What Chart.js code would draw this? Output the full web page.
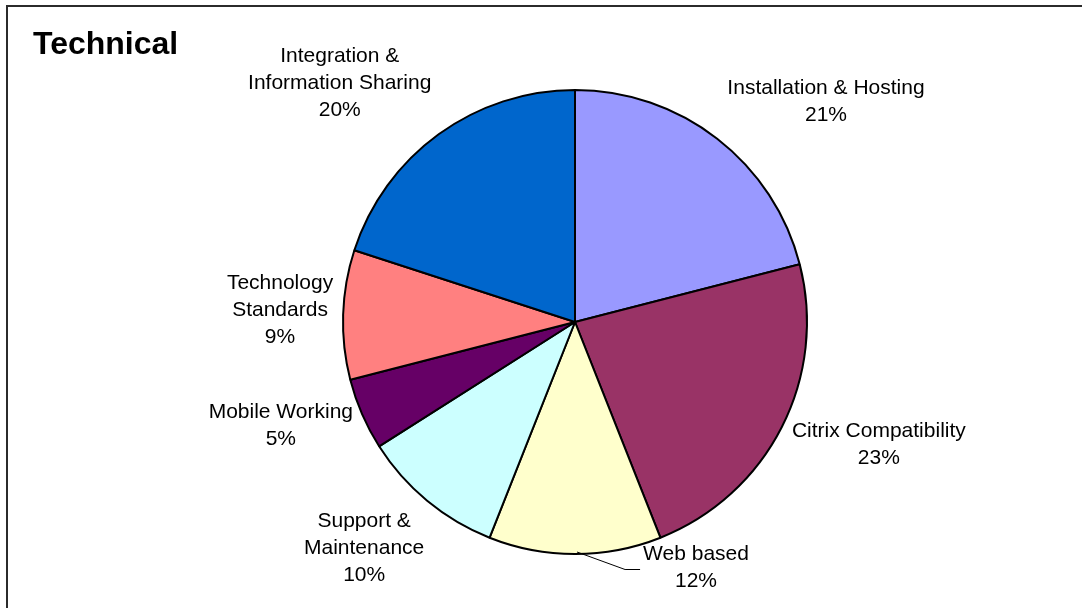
<!DOCTYPE html>
<html>
<head>
<meta charset="utf-8">
<title>Technical</title>
<script src="https://cdn.jsdelivr.net/npm/chart.js@4.4.1/dist/chart.umd.min.js"></script>
<style>
  html, body { margin: 0; padding: 0; background: #fff; }
  #wrap { width: 1082px; height: 608px; }
</style>
</head>
<body>
<div id="wrap"><canvas id="pie" width="1082" height="608"></canvas></div>
<script>
// Technical issues breakdown - pie with outside labels
const categories = [
  ['Installation & Hosting'],
  ['Citrix Compatibility'],
  ['Web based'],
  ['Support &', 'Maintenance'],
  ['Mobile Working'],
  ['Technology', 'Standards'],
  ['Integration &', 'Information Sharing']
];
const shares = [21, 23, 12, 10, 5, 9, 20];
const sliceColors = ['#9999FF', '#993366', '#FFFFCC', '#CCFFFF', '#660066', '#FF8080', '#0066CC'];

// label placement tweaks (px) on top of the generic outside placement
const labelNudge = [[41, -6], [9, 0], [121, -25], [-17, 7], [-4, -4], [2, -3], [-38, -9]];
const hasLeader = [false, false, true, false, false, false, false];

const FONT = '"Liberation Sans", Arial, sans-serif';
const LINE_H = 27;

const pieLabels = {
  id: 'pieLabels',
  beforeDraw(chart) {
    const ctx = chart.ctx;
    ctx.save();
    // outer frame (cut off at right/bottom like the source)
    ctx.strokeStyle = '#2b2b2b';
    ctx.lineWidth = 2;
    ctx.strokeRect(7, 6, 1200, 800);
    // title
    ctx.fillStyle = '#000';
    ctx.font = 'bold 32px ' + FONT;
    ctx.textBaseline = 'alphabetic';
    ctx.textAlign = 'left';
    ctx.fillText('Technical', 33, 54);
    ctx.restore();
  },
  afterDatasetsDraw(chart) {
    const ctx = chart.ctx;
    const total = shares.reduce((a, b) => a + b, 0);
    ctx.save();
    ctx.font = '21px ' + FONT;
    ctx.fillStyle = '#000';
    ctx.textAlign = 'center';
    ctx.textBaseline = 'middle';
    chart.getDatasetMeta(0).data.forEach((arc, i) => {
      const p = arc.getProps(['x', 'y', 'startAngle', 'endAngle', 'outerRadius'], true);
      const mid = (p.startAngle + p.endAngle) / 2;
      const c = Math.cos(mid), s = Math.sin(mid);
      const lines = categories[i].concat([Math.round(shares[i] / total * 100) + '%']);
      const w = Math.max(...lines.map(t => ctx.measureText(t).width));
      const h = lines.length * LINE_H;
      const ax = p.x + (p.outerRadius + 12) * c;
      const ay = p.y + (p.outerRadius + 12) * s;
      const cx = ax + c * w / 2 + labelNudge[i][0];
      const cy = ay + s * h / 2 + labelNudge[i][1];
      if (hasLeader[i]) {
        const left = cx - w / 2;
        ctx.beginPath();
        ctx.strokeStyle = '#000';
        ctx.lineWidth = 1;
        ctx.moveTo(p.x + p.outerRadius * c + 2, p.y + p.outerRadius * s - 2);
        ctx.lineTo(left - 18, cy + 1.5);
        ctx.lineTo(left - 3, cy + 1.5);
        ctx.stroke();
      }
      lines.forEach((t, k) => {
        ctx.fillText(t, cx, cy - (lines.length - 1) * LINE_H / 2 + k * LINE_H);
      });
    });
    ctx.restore();
  }
};

new Chart(document.getElementById('pie'), {
  type: 'pie',
  data: {
    labels: categories.map(l => l.join(' ')),
    datasets: [{
      data: shares,
      backgroundColor: sliceColors,
      borderColor: '#000',
      borderWidth: 2
    }]
  },
  options: {
    responsive: false,
    animation: false,
    layout: { padding: { left: 342, right: 274, top: 89, bottom: 53 } },
    plugins: {
      legend: { display: false },
      tooltip: { enabled: false },
      title: { display: false }
    }
  },
  plugins: [pieLabels]
});
</script>
</body>
</html>
